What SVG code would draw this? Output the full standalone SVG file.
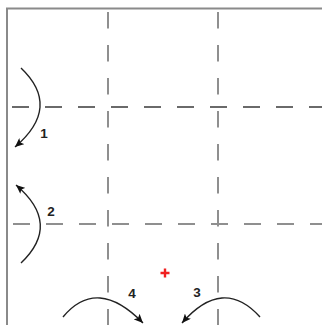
<svg xmlns="http://www.w3.org/2000/svg" width="322" height="325" viewBox="0 0 322 325">
<defs>
<style>
.border{fill:none;stroke:#8a8a8a;stroke-width:2}
.dv{fill:none;stroke:#8f8f8f;stroke-width:2;stroke-dasharray:16.5 16.5}
.dh1{fill:none;stroke:#3a3a3a;stroke-width:1.5;stroke-dasharray:17 16}
.dh2{fill:none;stroke:#8f8f8f;stroke-width:2;stroke-dasharray:17 16}
.arc{fill:none;stroke:#222;stroke-width:1.4;marker-end:url(#ah)}
.lbl{font-family:"Liberation Sans",Arial,sans-serif;font-size:13.5px;font-weight:bold;fill:#222;text-anchor:middle}
</style>
<marker id="ah" markerUnits="userSpaceOnUse" markerWidth="10" markerHeight="8" refX="9" refY="4" orient="auto">
<path d="M0,0 L9,4 L0,8 L2,4 Z" fill="#111"/>
</marker>
</defs>
<g id="frame">
<path class="border" d="M7,325 L7,8.5 L322,8.5"/>
</g>
<g id="grid">
<line class="dv" x1="108" y1="12" x2="108" y2="325"/>
<line class="dv" x1="218" y1="12" x2="218" y2="325"/>
<line class="dh1" x1="12" y1="107" x2="322" y2="107"/>
<line class="dh2" x1="13" y1="224" x2="322" y2="224"/>
</g>
<g id="connectors">
<path class="arc" d="M21,68 Q62,107 15,147"/>
<path class="arc" d="M21,263 Q62,224 16,185"/>
<path class="arc" d="M63,317 Q97,276 143,323"/>
<path class="arc" d="M260,317 Q223,276 182,323"/>
</g>
<g id="labels">
<text class="lbl" x="44" y="137.5">1</text>
<text class="lbl" x="51" y="215.5">2</text>
<text class="lbl" x="197" y="297">3</text>
<text class="lbl" x="132" y="298">4</text>
</g>
<g id="center-mark">
<path d="M160.5,273 L169.5,273 M165,268.5 L165,277.5" stroke="#f02020" stroke-width="2.4" fill="none"/>
</g>
</svg>
